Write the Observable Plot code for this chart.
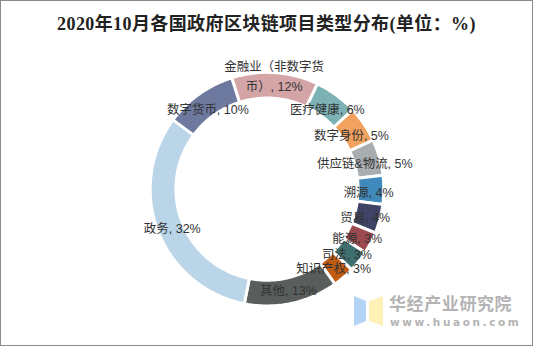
<!DOCTYPE html>
<html>
<head>
<meta charset="utf-8">
<script src="https://cdn.jsdelivr.net/npm/d3@7"></script>
<script src="https://cdn.jsdelivr.net/npm/@observablehq/plot@0.6"></script>
<style>
  html, body { margin: 0; padding: 0; background: #fff; }
  #frame { position: relative; width: 533px; height: 346px; box-sizing: border-box; border: 1px solid #8a8a8a; overflow: hidden; background: #fff; }
  #title { position: absolute; left: 0; right: 0; top: 13px; text-align: center; font-family: "Liberation Serif", "Noto Sans CJK SC", serif; font-weight: bold; font-size: 18px; color: #222; line-height: 20px; letter-spacing: 0.4px; }
  #chart { position: absolute; left: -1px; top: -1px; }
  #logo { position: absolute; left: 352px; top: 293px; }
  #wm1 { position: absolute; left: 388px; top: 292px; font-family: "Noto Sans CJK SC", sans-serif; font-size: 17px; letter-spacing: 0.6px; color: #b4b4b4; line-height: 20px; white-space: nowrap; font-weight: bold; }
  #wm2 { position: absolute; left: 389px; top: 314px; font-family: "DejaVu Sans", sans-serif; font-size: 10.5px; letter-spacing: 2.6px; color: #b4b4b4; line-height: 14px; white-space: nowrap; font-weight: bold; }
</style>
</head>
<body>
<div id="frame">
  <div id="chart"></div>
  <div id="title">2020年10月各国政府区块链项目类型分布(单位：%)</div>
  <svg id="logo" width="32" height="34" viewBox="0 0 32 34">
    <polygon points="1,2 13,7 13,27 1,32" fill="#b3d3f7"/>
    <polygon points="16,7 30,2 30,32 16,27" fill="#fdf1b8"/>
  </svg>
  <div id="wm1">华经产业研究院</div>
  <div id="wm2">www.huaon.com</div>
</div>
<script>
const categories = ["金融业（非数字货币）", "医疗健康", "数字身份", "供应链&物流", "溯源", "贸易", "能源", "司法", "知识产权", "其他", "政务", "数字货币"];
const values = [12, 6, 5, 5, 4, 4, 3, 3, 3, 13, 32, 10];
const colors = ["#d4a5a6", "#7db2b4", "#f2a15f", "#a8aeb0", "#3f89bb", "#3f4466", "#9c4a50", "#3e7070", "#c25b12", "#595e5d", "#b9d5e7", "#6d799f"];

const rows = categories.map((name, i) => ({name, value: values[i]}));

// layout constants
const cx = 267, cy = 189, R = 117;
const innerRatio = 0.78;
const startAngle = -17.6 * Math.PI / 180;

const pie = d3.pie().value(d => d.value).sort(null)
  .startAngle(startAngle).endAngle(startAngle + 2 * Math.PI);
const arcs = pie(rows);

// polygon points for each ring segment (unit coordinates)
const pts = [];
for (const a of arcs) {
  const n = Math.max(4, Math.ceil((a.endAngle - a.startAngle) / (Math.PI / 180)));
  for (let k = 0; k <= n; k++) {
    const t = a.startAngle + (a.endAngle - a.startAngle) * k / n;
    pts.push({name: a.data.name, x: Math.sin(t), y: Math.cos(t)});
  }
  for (let k = n; k >= 0; k--) {
    const t = a.startAngle + (a.endAngle - a.startAngle) * k / n;
    pts.push({name: a.data.name, x: innerRatio * Math.sin(t), y: innerRatio * Math.cos(t)});
  }
}

function wrap(name) {
  return name.length > 8 ? name.slice(0, 8) + "\n" + name.slice(8) : name;
}
const labelR = 0.87;
const labels = arcs.map(a => {
  const m = (a.startAngle + a.endAngle) / 2;
  return {name: a.data.name, text: wrap(a.data.name) + ", " + a.data.value + "%", x: labelR * Math.sin(m), y: labelR * Math.cos(m), multi: a.data.name.length > 8};
});

const font = `"Liberation Sans", "Noto Sans CJK SC", sans-serif`;
const chart = Plot.plot({
  width: 533,
  height: 346,
  margin: 0,
  x: {domain: [-1, 1], range: [cx - R, cx + R], axis: null},
  y: {domain: [-1, 1], range: [cy + R, cy - R], axis: null},
  color: {domain: categories, range: colors},
  style: {background: "transparent", overflow: "visible"},
  marks: [
    Plot.line(pts, {x: "x", y: "y", z: "name", fill: "name", stroke: "white", strokeWidth: 3, curve: "linear-closed", strokeLinejoin: "miter"}),
    Plot.text(labels.filter(d => !d.multi), {x: "x", y: "y", text: "text", fontSize: 12.5, fill: "#333", fontFamily: font, dy: 3}),
    Plot.text(labels.filter(d => d.multi), {x: "x", y: "y", text: "text", fontSize: 12.5, fill: "#333", fontFamily: font, lineHeight: 1.55, dy: -13})
  ]
});
document.getElementById("chart").appendChild(chart);
</script>
</body>
</html>
